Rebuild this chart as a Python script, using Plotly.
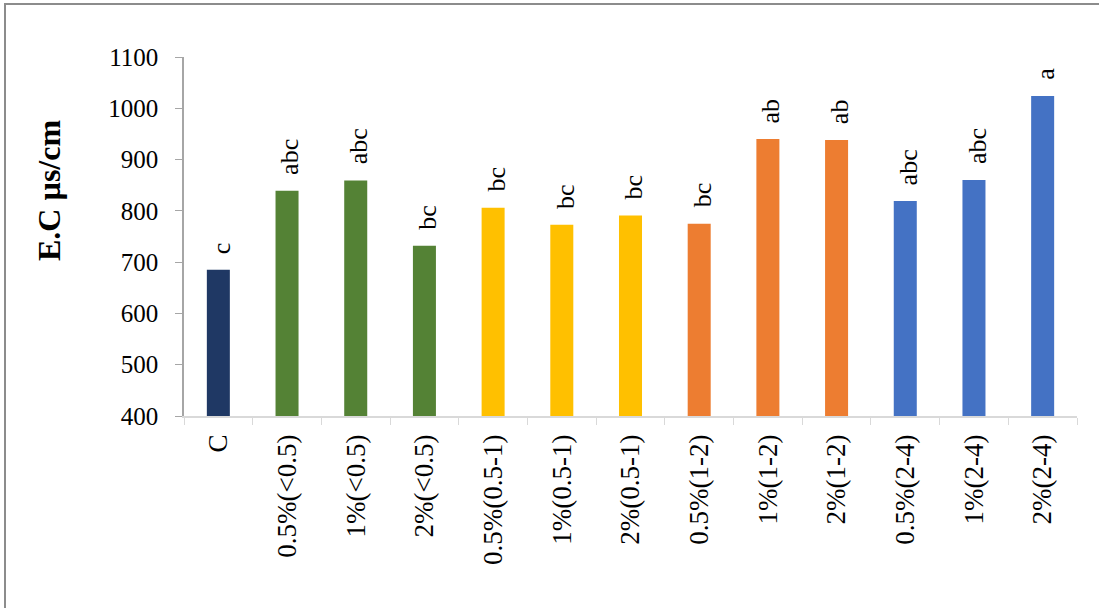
import plotly.graph_objects as go

categories = ["C", "0.5%(<0.5)", "1%(<0.5)", "2%(<0.5)", "0.5%(0.5-1)", "1%(0.5-1)",
              "2%(0.5-1)", "0.5%(1-2)", "1%(1-2)", "2%(1-2)", "0.5%(2-4)", "1%(2-4)", "2%(2-4)"]
values = [685, 839, 859, 732, 806, 773, 791, 775, 940, 938, 819, 860, 1024]
letters = ["c", "abc", "abc", "bc", "bc", "bc", "bc", "bc", "ab", "ab", "abc", "abc", "a"]
colors = ["#1F3864", "#548235", "#548235", "#548235", "#FFC000", "#FFC000", "#FFC000",
          "#ED7D31", "#ED7D31", "#ED7D31", "#4472C4", "#4472C4", "#4472C4"]
y_ticks = [400, 500, 600, 700, 800, 900, 1000, 1100]
y_min = 400

W, H = 1099, 608
ml, mr, mt, mb = 184, 22, 57, 192
pw, ph = W - ml - mr, H - mt - mb
serif = "Liberation Serif, Times New Roman, serif"

fig = go.Figure()
fig.add_trace(go.Bar(
    x=categories, y=[v - y_min for v in values], base=y_min,
    marker=dict(color=colors, line=dict(width=0)),
    width=0.335, hoverinfo="skip",
))

for c, v, t in zip(categories, values, letters):
    fig.add_annotation(x=c, y=v, text=t, textangle=-90, showarrow=False,
                       xanchor="center", yanchor="bottom", yshift=14, xshift=3,
                       font=dict(family=serif, size=26, color="#000"))

fig.add_annotation(xref="paper", yref="paper", x=(49 - ml) / pw, y=(mt + ph - 191) / ph,
                   text="<b>E.C µs/cm</b>", textangle=-90, showarrow=False,
                   xanchor="center", yanchor="middle",
                   font=dict(family=serif, size=32, color="#000"))

fig.add_shape(type="rect", xref="paper", yref="paper",
              x0=(5 - ml) / pw, x1=(1115 - ml) / pw,
              y0=(mt + ph - 625) / ph, y1=(mt + ph - 4) / ph,
              line=dict(color="#8C8C8C", width=2), layer="below")

fig.update_layout(
    width=W, height=H, margin=dict(l=ml, r=mr, t=mt, b=mb),
    paper_bgcolor="white", plot_bgcolor="white", showlegend=False,
    font=dict(family=serif, color="#000"),
)
fig.update_xaxes(showline=True, linecolor="#D9D9D9", linewidth=1.5,
                 ticks="outside", tickson="boundaries", ticklen=7, tickcolor="#D9D9D9",
                 tickangle=-90, tickfont=dict(family=serif, size=27, color="#000"),
                 ticklabelstandoff=6, showgrid=False)
fig.update_yaxes(range=[400, 1100], tickvals=y_ticks, showline=True, linecolor="#A6A6A6",
                 linewidth=1.5, ticks="outside", ticklen=7, tickcolor="#A6A6A6",
                 tickfont=dict(family=serif, size=25, color="#000"),
                 ticklabelstandoff=12, showgrid=False, zeroline=False)

fig.write_html("out.html")
